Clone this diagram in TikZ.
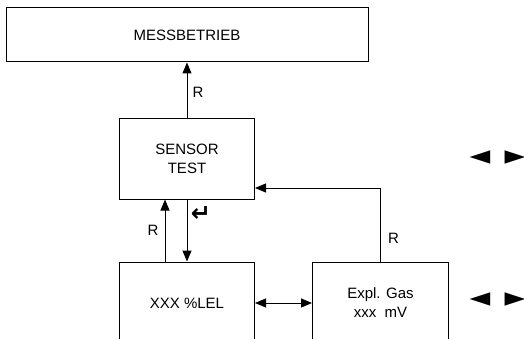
\documentclass[tikz,border=0pt]{standalone}
\usepackage{fontspec}
\setmainfont{Liberation Sans}
\newfontfamily\symfont{DejaVu Sans}
\usetikzlibrary{arrows.meta, positioning}

\begin{document}
\begin{tikzpicture}[
  x=1pt, y=1pt,
  box/.style={draw, line width=1pt, align=center, inner sep=0pt,
              minimum width=135pt, minimum height=82pt,
              font=\fontsize{15}{19}\selectfont},
  arr/.style={-{Triangle[length=11pt, width=9pt]}, line width=1pt},
  dblarr/.style={{Triangle[length=11pt, width=9pt]}-{Triangle[length=11pt, width=9pt]}, line width=1pt},
  lbl/.style={font=\fontsize{15}{18}\selectfont, inner sep=0pt},
  keysym/.style={font=\symfont\fontsize{27}{30}\selectfont, inner sep=0pt}
]
\clip (0,0) rectangle (524,338);

\node[box, minimum width=362pt, minimum height=54pt] (mess) at (187,303) {MESSBETRIEB};
\node[box, minimum height=81pt, below=55pt of mess] (sensor) {SENSOR\\TEST};
\node[box, below=62pt of sensor] (lel) {XXX \%LEL};
\node[box, minimum width=136pt, right=57pt of lel] (expl) {Expl. Gas\\xxx~~mV};

% key hints
\node[keysym, font=\symfont\bfseries\fontsize{24}{28}\selectfont] (enter)
  at ([xshift=14pt, yshift=-14pt]sensor.south) {↵};
\node[keysym] (left1)  at (480,180.5) {◄};
\node[keysym] (right1) at (515,180.5) {►};
\node[keysym] (left2)  at (480,38) {◄};
\node[keysym] (right2) at (515,38) {►};

\draw[arr] (sensor.north) -- (sensor.north |- mess.south)
  node[lbl, pos=0.45, right=5pt] {R};
\draw[arr] ([xshift=-22pt]lel.north) -- ([xshift=-22pt]sensor.south)
  node[lbl, midway, left=6pt] {R};
\draw[arr] (sensor.south) -- (lel.north);
\draw[dblarr] (lel) -- (expl);
\draw[arr] (expl.north) |- ([yshift=-29.5pt]sensor.east)
  node[lbl, pos=0.16, right=7pt] {R};
\end{tikzpicture}
\end{document}
